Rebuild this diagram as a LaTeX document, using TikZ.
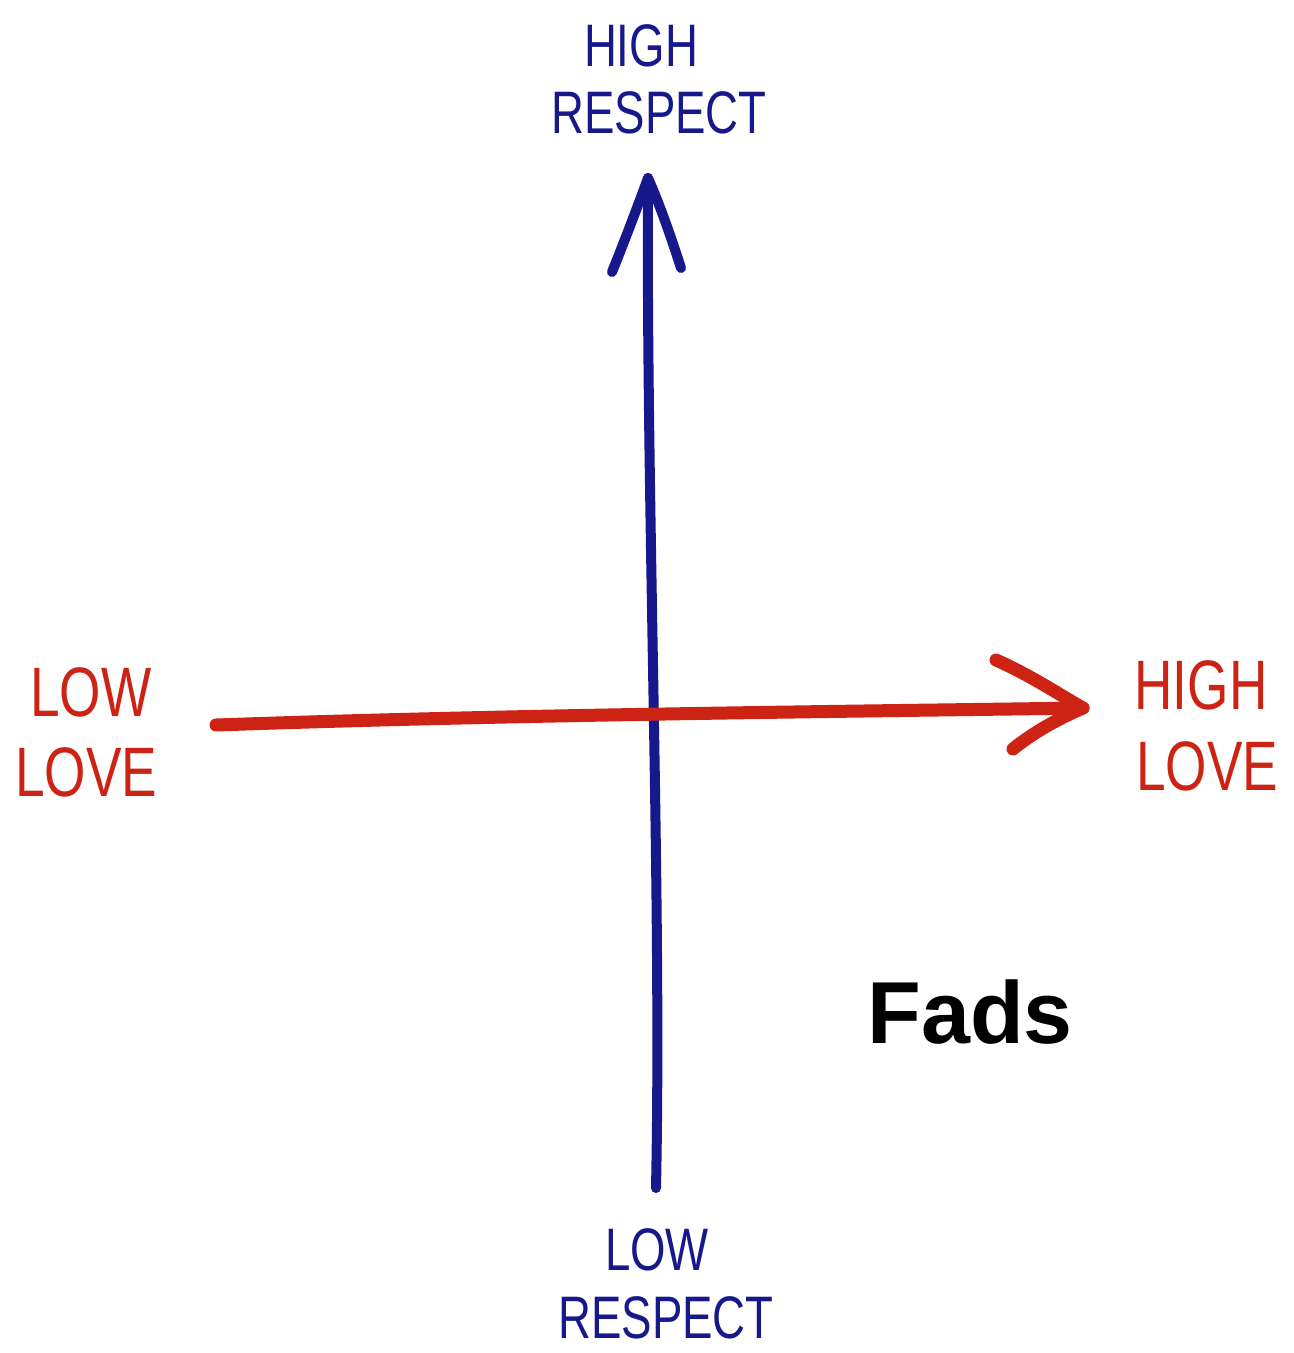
\documentclass[tikz,border=0pt]{standalone}
\usepackage{fontspec}
\setmainfont{Liberation Sans}
\definecolor{penblue}{RGB}{22,24,140}
\definecolor{penred}{RGB}{205,35,20}
\tikzset{
  bluelbl/.style={inner sep=0pt, text=penblue, font=\fontsize{60}{60}\selectfont},
  redlbl/.style={inner sep=0pt, text=penred, font=\fontsize{70}{70}\selectfont},
  bluepen/.style={draw=penblue, line width=10pt, line cap=round, line join=round},
  redpen/.style={draw=penred, line width=13pt, line cap=round, line join=round},
}
\newcommand{\hand}[1]{\scalebox{0.76}[1]{#1}}
\begin{document}
\begin{tikzpicture}[x=1pt,y=-1pt]
\useasboundingbox[fill=white] (0,0) rectangle (1294,1353);
% labels
\node[bluelbl] (hr1) at (641,46) {\hand{HIGH}};
\node[bluelbl] (hr2) at (659,113) {\hand{RESPECT}};
\node[bluelbl] (lr1) at (657,1250) {\hand{LOW}};
\node[bluelbl] (lr2) at (666,1318) {\hand{RESPECT}};
\node[redlbl] (ll1) at (91,692) {\hand{LOW}};
\node[redlbl] (ll2) at (86,772) {\hand{LOVE}};
\node[redlbl] (hl1) at (1201,685) {\hand{HIGH}};
\node[redlbl] (hl2) at (1207,766) {\hand{LOVE}};
\node[inner sep=0pt, font=\fontsize{88}{88}\selectfont\bfseries] (fads) at (970,1012) {Fads};
% axes
\coordinate (vbot) at (656,1188);
\coordinate (vtop) at (648,178);
\coordinate (vl) at (612,272);
\coordinate (vr) at (681,268);
\coordinate (hleft) at (216,725);
\coordinate (hright) at (1083,708);
\coordinate (hu) at (996,660);
\coordinate (hd) at (1013,749);
\draw[bluepen] (vbot) .. controls (662,900) and (646,500) .. (vtop);
\draw[bluepen] (vl) .. controls (625,240) and (640,200) .. (vtop) .. controls (660,205) and (672,240) .. (vr);
\draw[redpen] (hleft) .. controls (500,715) and (800,712) .. (hright);
\draw[redpen] (hu) .. controls (1030,675) and (1060,695) .. (hright) .. controls (1055,720) and (1030,735) .. (hd);
\end{tikzpicture}
\end{document}
